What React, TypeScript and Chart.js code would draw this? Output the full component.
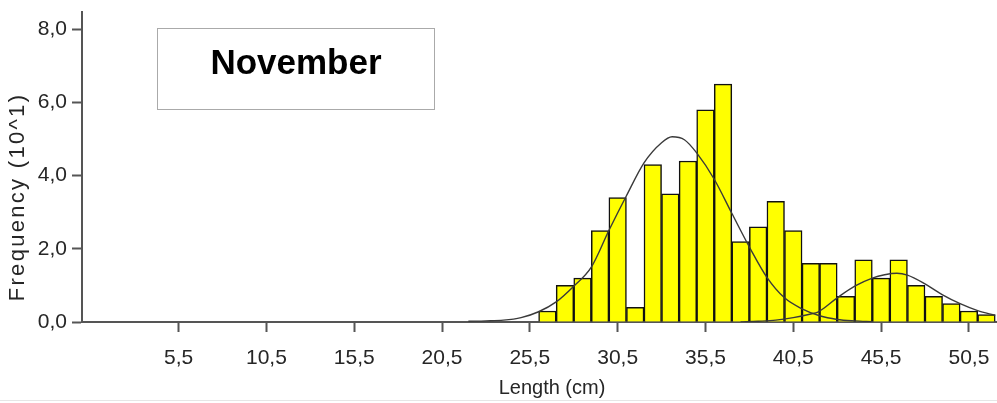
import React, { useEffect, useRef } from 'react';
import { Chart, registerables } from 'chart.js';

Chart.register(...registerables);

// ---- Data ----
const binCenters = [26.5, 27.5, 28.5, 29.5, 30.5, 31.5, 32.5, 33.5, 34.5, 35.5, 36.5, 37.5, 38.5, 39.5, 40.5, 41.5, 42.5, 43.5, 44.5, 45.5, 46.5, 47.5, 48.5, 49.5, 50.5, 51.5];
const frequencies = [0.3, 1.0, 1.2, 2.5, 3.4, 0.4, 4.3, 3.5, 4.4, 5.8, 6.5, 2.2, 2.6, 3.3, 2.5, 1.6, 1.6, 0.7, 1.7, 1.2, 1.7, 1.0, 0.7, 0.5, 0.3, 0.2];

const curve1X = [22, 23, 24, 25, 26, 27, 28, 29, 30, 31, 32, 33, 33.6, 34.3, 35, 36, 37, 38, 39, 40, 41, 42, 43, 44, 45];
const curve1Y = [0.02, 0.03, 0.05, 0.12, 0.28, 0.55, 0.98, 1.5, 2.5, 3.45, 4.35, 4.9, 5.06, 4.98, 4.62, 3.9, 2.97, 2.05, 1.22, 0.66, 0.36, 0.17, 0.07, 0.03, 0.01];

const curve2X = [37.5, 38.5, 39.5, 40.5, 41.5, 41.9, 43, 44, 45, 45.7, 46.4, 47, 48, 49, 50, 51, 52];
const curve2Y = [0.0, 0.02, 0.05, 0.12, 0.22, 0.27, 0.66, 0.98, 1.2, 1.29, 1.33, 1.28, 1.04, 0.74, 0.5, 0.31, 0.18];

const xTickValues = [5.5, 10.5, 15.5, 20.5, 25.5, 30.5, 35.5, 40.5, 45.5, 50.5];
const yTickValues = [0, 2, 4, 6, 8];

const monthLabel = 'November';
const xTitle = 'Length (cm)';
const yTitle = 'Frequency (10^1)';

const FONT = '"Liberation Sans", Arial, sans-serif';
const TEXT_COLOR = '#262626';
const AXIS_COLOR = '#555555';

const axisTitlesPlugin = {
  id: 'axisTitlesCustom',
  afterDraw(chart: any) {
    const ctx = chart.ctx;
    // y-axis title
    ctx.save();
    ctx.translate(18, 197);
    ctx.rotate(-Math.PI / 2);
    ctx.font = `22px ${FONT}`;
    (ctx as any).letterSpacing = '2.3px';
    ctx.fillStyle = TEXT_COLOR;
    ctx.textAlign = 'center';
    ctx.textBaseline = 'middle';
    ctx.fillText(yTitle, 0, 0);
    ctx.restore();
    // x-axis title
    ctx.save();
    ctx.font = `20px ${FONT}`;
    ctx.fillStyle = TEXT_COLOR;
    ctx.textAlign = 'center';
    ctx.textBaseline = 'middle';
    ctx.fillText(xTitle, 552, 388);
    ctx.restore();
  },
};

export default function App() {
  const canvasRef = useRef<HTMLCanvasElement | null>(null);

  useEffect(() => {
    if (!canvasRef.current) return;
    const chart = new Chart(canvasRef.current, {
      type: 'bar',
      data: {
        datasets: [
          {
            type: 'line',
            data: curve1X.map((x, i) => ({ x, y: curve1Y[i] })),
            borderColor: '#3a3a3a',
            borderWidth: 1.4,
            pointRadius: 0,
            fill: false,
            cubicInterpolationMode: 'monotone',
            order: 1,
          } as any,
          {
            type: 'line',
            data: curve2X.map((x, i) => ({ x, y: curve2Y[i] })),
            borderColor: '#3a3a3a',
            borderWidth: 1.4,
            pointRadius: 0,
            fill: false,
            cubicInterpolationMode: 'monotone',
            order: 1,
          } as any,
          {
            type: 'bar',
            data: binCenters.map((x, i) => ({ x, y: frequencies[i] })),
            backgroundColor: '#ffff00',
            borderColor: '#111111',
            borderWidth: 1.5,
            barPercentage: 1,
            categoryPercentage: 1,
            order: 2,
          } as any,
        ],
      },
      options: {
        animation: false,
        responsive: false,
        devicePixelRatio: 1,
        layout: { padding: { top: 12, right: 0, left: 0, bottom: 0 } },
        plugins: {
          legend: { display: false },
          tooltip: { enabled: false },
          title: { display: false },
        },
        scales: {
          x: {
            type: 'linear',
            min: 0,
            max: 52.1,
            offset: false,
            afterBuildTicks: (scale: any) => {
              scale.ticks = xTickValues.map((v) => ({ value: v }));
            },
            afterFit: (scale: any) => {
              scale.height = 81;
              scale.paddingLeft = 0;
              scale.paddingRight = 0;
            },
            ticks: {
              autoSkip: false,
              maxRotation: 0,
              padding: 14,
              color: TEXT_COLOR,
              font: { family: FONT, size: 21 },
              callback: (v: any) => String(v).replace('.', ','),
            },
            grid: {
              offset: false,
              drawOnChartArea: false,
              drawTicks: true,
              tickLength: 10,
              tickWidth: 2,
              tickColor: AXIS_COLOR,
            },
            border: { display: true, color: AXIS_COLOR, width: 2 },
          },
          y: {
            type: 'linear',
            min: 0,
            max: 8.47,
            afterBuildTicks: (scale: any) => {
              scale.ticks = yTickValues.map((v) => ({ value: v }));
            },
            afterFit: (scale: any) => {
              scale.width = 82;
              scale.paddingTop = 0;
              scale.paddingBottom = 0;
            },
            ticks: {
              padding: 5,
              color: TEXT_COLOR,
              font: { family: FONT, size: 21 },
              callback: (v: any) => Number(v).toFixed(1).replace('.', ','),
            },
            grid: {
              drawOnChartArea: false,
              drawTicks: true,
              tickLength: 10,
              tickWidth: 2,
              tickColor: AXIS_COLOR,
            },
            border: { display: true, color: AXIS_COLOR, width: 2 },
          },
        },
      },
      plugins: [axisTitlesPlugin],
    });
    return () => chart.destroy();
  }, []);

  return (
    <div style={{ position: 'fixed', left: 0, top: 0, width: 997, height: 403, background: '#ffffff' }}>
      <canvas ref={canvasRef} width={997} height={403} style={{ display: 'block' }} />
      <div
        style={{
          position: 'absolute',
          left: 157,
          top: 28,
          width: 276,
          height: 80,
          border: '1px solid #aaaaaa',
          boxSizing: 'content-box',
          fontFamily: FONT,
          fontWeight: 'bold',
          fontSize: 35,
          color: '#000000',
          textAlign: 'center',
          lineHeight: '40px',
        }}
      >
        <div style={{ marginTop: 13 }}>{monthLabel}</div>
      </div>
      <div style={{ position: 'absolute', left: 0, top: 400, width: 997, height: 1, background: '#e6e6e6' }} />
    </div>
  );
}
